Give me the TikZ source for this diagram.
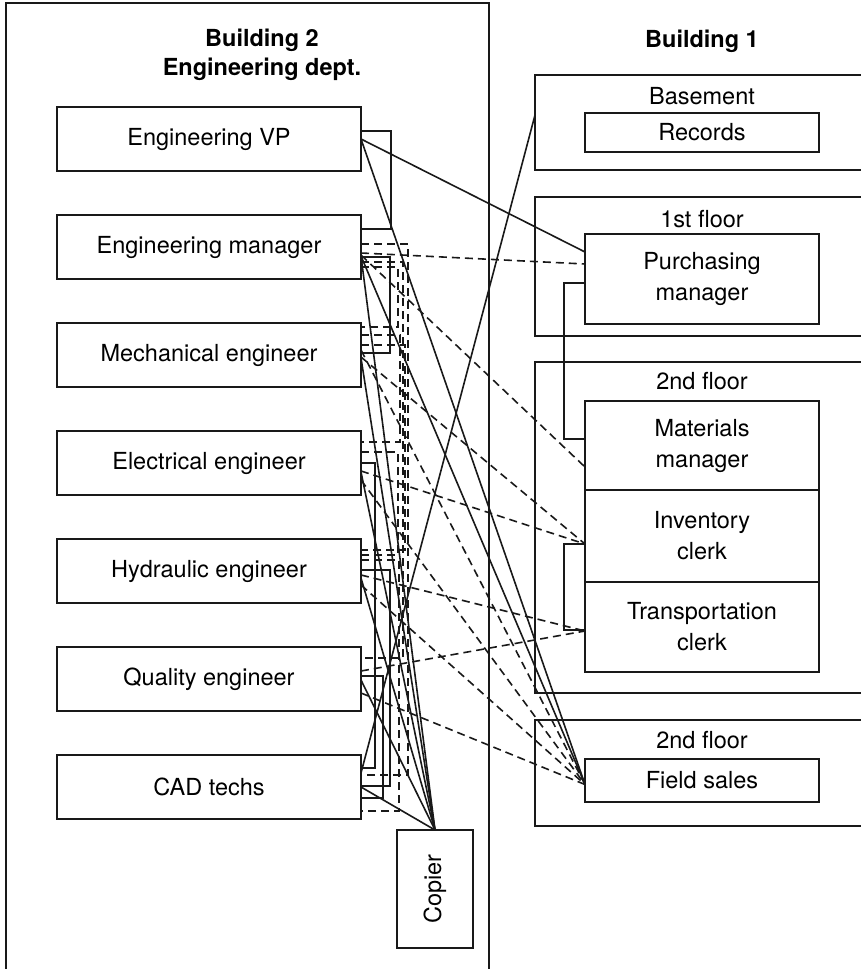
\documentclass[tikz,border=0pt]{standalone}
\usepackage{fontspec}
\setmainfont{TeX Gyre Heros}
\usepackage{graphicx}
\usepackage{tikz}
\usetikzlibrary{positioning}

\begin{document}
\begin{tikzpicture}[x=1pt, y=-1pt,
    office/.style={rectangle, draw=black!90, line width=1.2pt, minimum width=304pt, minimum height=64pt, inner sep=0pt, outer sep=0pt, font=\fontsize{23.5}{31}\selectfont},
    desk/.style={office, minimum width=234pt, align=center},
    heading/.style={font=\fontsize{23.5}{29}\selectfont\bfseries, align=center},
    floorlabel/.style={font=\fontsize{23.5}{28}\selectfont},
    wall/.style={draw=black!90, line width=1.2pt},
    move/.style={draw=black!90, line width=1.6pt},
    walk/.style={move, dash pattern=on 8pt off 5pt},
]
    \useasboundingbox (0,0) rectangle (860,969);

    % Buildings
    \draw[wall] (6,969) |- (489,3) -- (489,969);
    \node[heading] (bldgtwo) at (262,55) {Building 2\\Engineering dept.};
    \node[heading] (bldgone) at (702,41) {Building 1};

    \draw[wall] (870,75) -| (535,170) -- (870,170);
    \draw[wall] (870,197) -| (535,336) -- (870,336);
    \draw[wall] (870,362) -| (535,693) -- (870,693);
    \draw[wall] (870,720) -| (535,826) -- (870,826);
    \node[floorlabel] (basementlbl) at (702,96) {Basement};
    \node[floorlabel] (firstlbl) at (702,219) {1st floor};
    \node[floorlabel] (secondlbl) at (702,381) {2nd floor};
    \node[floorlabel] (saleslbl) at (702,740) {2nd floor};
    \coordinate (basement) at (535,115);

    % Engineering offices
    \node[office] (vp) at (209,139) {Engineering VP};
    \node[office, below=44pt of vp] (mgr) {Engineering manager};
    \node[office, below=44pt of mgr] (mech) {Mechanical engineer};
    \node[office, below=44pt of mech] (elec) {Electrical engineer};
    \node[office, below=44pt of elec] (hydr) {Hydraulic engineer};
    \node[office, below=44pt of hydr] (qual) {Quality engineer};
    \node[office, below=44pt of qual] (cad) {CAD techs};
    \node[office, minimum width=76pt, minimum height=118pt] (copier) at (435,889) {\rotatebox{90}{Copier}};

    % Building 1 desks
    \node[desk, minimum height=39pt] (records) at (702,132.5) {Records};
    \node[desk, minimum height=90pt] (purch) at (702,279) {Purchasing\\manager};
    \node[desk, minimum height=89pt] (mat) at (702,445.5) {Materials\\manager};
    \node[desk, minimum height=92pt, below=0pt of mat] (inv) {Inventory\\clerk};
    \node[desk, minimum height=90pt, below=0pt of inv] (trans) {Transportation\\clerk};
    \node[desk, minimum height=43pt] (sales) at (702,780.5) {Field sales};

    % Engineering VP
    \draw[move] ([yshift=8pt]vp.east) -- ++(30,0) |- ([yshift=18pt]mgr.east);
    \draw[move] (vp.east) -- ([yshift=27pt]purch.west);
    \draw[move] (vp.east) -- ([yshift=-4pt]sales.west);

    % Engineering manager
    \draw[walk] ([yshift=-6pt]mgr.east) -- ([yshift=15pt]purch.west);
    \draw[walk] ([yshift=-8pt]mgr.east) -- ([yshift=-21.5pt]mat.west);
    \draw[move] ([yshift=-10pt]mgr.east) -- ++(29,0) |- ([yshift=2pt]mech.east);
    \draw[move] ([yshift=-9pt]mgr.east) -- (copier.north);
    \draw[move] ([yshift=-9pt]mgr.east) -- ([yshift=-4pt]sales.west);
    \draw[walk] ([yshift=3pt]mgr.east) -- ++(47,0) |- ([yshift=12pt]cad.east);
    \draw[walk] ([yshift=-15pt]mgr.east) -- ++(42,0) |- ([yshift=21pt]qual.east);
    \draw[walk] ([yshift=-20pt]mgr.east) -- ++(37,0) |- ([yshift=28pt]mech.east);

    % Mechanical engineer
    \draw[walk] ([yshift=-2pt]mech.east) -- ([yshift=-8pt]inv.west);
    \draw[walk] ([yshift=5pt]mech.east) -- ([yshift=-4pt]sales.west);
    \draw[move] ([yshift=-3pt]mech.east) -- (copier.north);
    \draw[walk] ([yshift=20pt]mech.east) -- ++(39,0) |- ([yshift=21pt]elec.east);
    \draw[walk] ([yshift=10pt]mech.east) -- ++(44,0) |- ([yshift=21pt]hydr.east);

    % Electrical engineer
    \draw[walk] ([yshift=-8pt]elec.east) -- ([yshift=-8pt]inv.west);
    \draw[walk] ([yshift=-17pt]elec.east) -- ([yshift=-4pt]sales.west);
    \draw[move] (elec.east) -- ++(14,0) |- ([yshift=19pt]cad.east);
    \draw[move] ([yshift=-9pt]elec.east) -- (copier.north);
    \draw[walk] ([yshift=11pt]elec.east) -- ++(37,0) |- ([yshift=16pt]hydr.east);

    % Hydraulic engineer
    \draw[walk] ([yshift=-4pt]hydr.east) -- ([yshift=-4pt]trans.west);
    \draw[walk] ([yshift=-14pt]hydr.east) -- ([yshift=-4pt]sales.west);
    \draw[move] ([yshift=1pt]hydr.east) -- ++(29,0) |- ([yshift=1pt]cad.east);
    \draw[move] ([yshift=-7pt]hydr.east) -- (copier.north);
    \draw[walk] ([yshift=11pt]hydr.east) -- ++(38,0) |- ([yshift=-24pt]cad.east);

    % Quality engineer
    \draw[walk] ([yshift=8pt]qual.east) -- ([yshift=-4pt]trans.west);
    \draw[walk] ([yshift=-14pt]qual.east) -- ([yshift=-4pt]sales.west);
    \draw[move] ([yshift=3pt]qual.east) -- ++(22,0) |- ([yshift=-11pt]cad.east);
    \draw[move] ([yshift=-1pt]qual.east) -- (copier.north);

    % CAD techs
    \draw[move] ([yshift=14pt]cad.east) -- (basement);
    \draw[move] (cad.east) -- (copier.north);

    % Building 1
    \draw[move] ([yshift=-4pt]purch.west) -- ++(-21,0) |- ([yshift=6.5pt]mat.west);
    \draw[move] ([yshift=-8pt]inv.west) -- ++(-21,0) |- ([yshift=-3pt]trans.west);
\end{tikzpicture}
\end{document}
